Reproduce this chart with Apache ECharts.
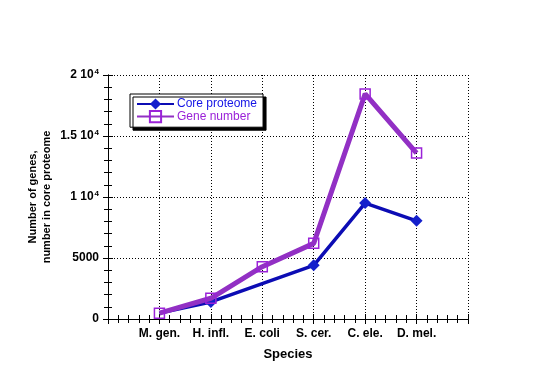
<!DOCTYPE html>
<html>
<head>
<meta charset="utf-8">
<script src="https://cdn.jsdelivr.net/npm/echarts@6/dist/echarts.min.js"></script>
<style>
html,body{margin:0;padding:0;background:#fff;}
#chart{width:540px;height:368px;}
</style>
</head>
<body>
<div id="chart"></div>
<script>
const categories = ['M. gen.', 'H. infl.', 'E. coli', 'S. cer.', 'C. ele.', 'D. mel.'];
const coreProteome = [480, 1400, null, 4400, 9500, 8050];
const geneNumber = [480, 1700, 4290, 6200, 18450, 13600];
const yTicks = [0, 5000, 10000, 15000, 20000];
const yTickLabels = ['0', '5000', '1 10{sup|4}', '1.5 10{sup|4}', '2 10{sup|4}'];

const FONT = '"Liberation Sans", Arial, sans-serif';
const BLUE = '#0c0cb4';
const BLUE_MARK = '#1420cc';
const PURPLE = '#9230c4';
const PURPLE_MARK = '#9a22d8';

const chart = echarts.init(document.getElementById('chart'), null, {renderer: 'canvas'});

const tickCommon = {
  axisLine: {show: true, lineStyle: {color: '#000', width: 1}},
  axisTick: {show: true, inside: true, length: 5, lineStyle: {color: '#000'}},
  minorTick: {show: true, splitNumber: 5, length: 4, lineStyle: {color: '#000'}}
};

const option = {
  backgroundColor: '#fff',
  animation: false,
  grid: {left: 108, right: 72, top: 75, bottom: 49, containLabel: false},
  legend: {
    left: 130, top: 94,
    orient: 'vertical',
    backgroundColor: '#fff',
    borderColor: '#000',
    borderWidth: 1,
    borderRadius: 0,
    padding: [4, 6, 4, 6],
    itemGap: 0,
    itemWidth: 37,
    itemHeight: 14,
    shadowColor: '#000',
    shadowBlur: 0,
    shadowOffsetX: 3,
    shadowOffsetY: 3,
    textStyle: {fontFamily: FONT, fontSize: 12, padding: [0, 0, 0, -2]},
    data: [
      {name: 'Core proteome', textStyle: {color: '#1414e6'}},
      {name: 'Gene number', textStyle: {color: '#9a22d8'}}
    ]
  },
  xAxis: [
    Object.assign({
      type: 'value', position: 'bottom', min: 0, max: 7, interval: 1,
      name: 'Species', nameLocation: 'middle', nameGap: 29, nameMoveOverlap: false,
      nameTextStyle: {fontFamily: FONT, fontSize: 13, fontWeight: 'bold', color: '#000'},
      axisLabel: {
        margin: 9, fontFamily: FONT, fontSize: 12, fontWeight: 'bold', color: '#000',
        formatter: v => categories[v - 1] || ''
      },
      splitLine: {show: true, lineStyle: {color: '#000', type: [1, 2], width: 1}}
    }, tickCommon),
    Object.assign({
      type: 'value', position: 'top', min: 0, max: 7, interval: 1,
      axisLabel: {show: false}, splitLine: {show: false}
    }, tickCommon)
  ],
  yAxis: [
    Object.assign({
      type: 'value', position: 'left', min: 0, max: 20000, interval: 5000,
      name: 'Number of genes,\nnumber in core proteome',
      nameLocation: 'middle', nameGap: 54, nameMoveOverlap: false,
      nameTextStyle: {fontFamily: FONT, fontSize: 11, fontWeight: 'bold', color: '#000', lineHeight: 14},
      axisLabel: {
        margin: 9, fontFamily: FONT, fontSize: 12, fontWeight: 'bold', color: '#000',
        formatter: v => { const i = yTicks.indexOf(v); return i >= 0 ? yTickLabels[i] : ''; },
        rich: {sup: {fontFamily: FONT, fontSize: 8, fontWeight: 'bold', color: '#000', padding: [0, 0, 6, 1]}}
      },
      splitLine: {show: true, lineStyle: {color: '#000', type: [1, 2], width: 1}}
    }, tickCommon),
    Object.assign({
      type: 'value', position: 'right', min: 0, max: 20000, interval: 5000,
      axisLabel: {show: false}, splitLine: {show: false}
    }, tickCommon)
  ],
  series: [
    {
      name: 'Core proteome', type: 'line', xAxisIndex: 0, yAxisIndex: 0,
      connectNulls: true, z: 2,
      symbol: 'diamond', symbolSize: 12,
      lineStyle: {color: BLUE, width: 3.5},
      itemStyle: {color: BLUE_MARK},
      data: coreProteome.map((v, i) => i === 0 ? {value: [i + 1, v], symbol: 'none'} : [i + 1, v])
    },
    {
      name: 'Gene number', type: 'line', xAxisIndex: 0, yAxisIndex: 0,
      z: 3,
      symbol: 'rect', symbolSize: 10,
      lineStyle: {color: PURPLE, width: 5},
      itemStyle: {color: 'rgba(255,255,255,0)', borderColor: PURPLE_MARK, borderWidth: 1.5},
      data: geneNumber.map((v, i) => [i + 1, v])
    }
  ]
};
chart.setOption(option);
</script>
</body>
</html>
